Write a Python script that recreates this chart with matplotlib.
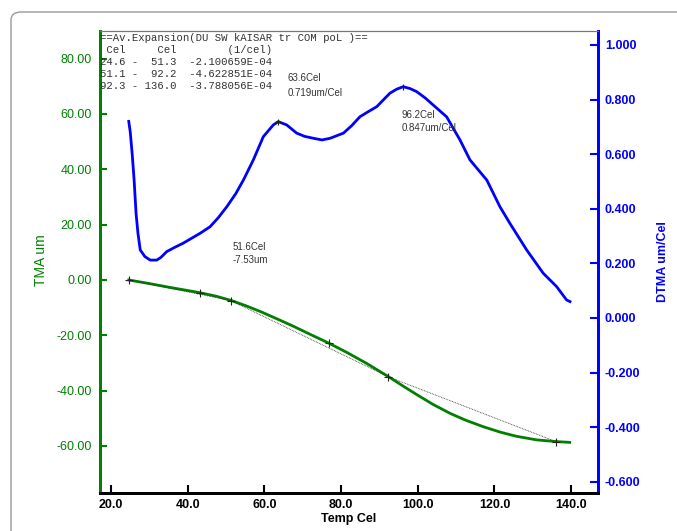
import matplotlib
matplotlib.use("Agg")
import matplotlib.pyplot as plt
from matplotlib.patches import FancyBboxPatch

# TMA curve (um) vs temperature (Cel)
tma_temp = [24.6, 30.0, 35.0, 43.2, 47.5, 51.6, 55.5, 59.6, 63.5, 67.5, 72.0, 76.9, 81.5,
            86.7, 92.4, 96.0, 99.8, 104.0, 108.4, 112.5, 117.0, 121.5, 125.7, 131.0, 136.0, 139.6]
tma_um = [0.0, -1.3, -2.6, -4.6, -5.9, -7.53, -9.5, -11.8, -14.2, -16.7, -19.7, -22.9, -26.2,
          -30.2, -35.0, -38.2, -41.5, -45.0, -48.2, -50.7, -53.0, -55.0, -56.5, -57.8, -58.4, -58.7]

# DTMA curve (um/Cel)
dtma_temp = [24.6, 25.0, 25.5, 26.0, 26.5, 27.0, 27.6, 28.8, 30.2, 31.9, 33.0, 34.5, 36.5, 38.8,
             41.0, 43.2, 45.8, 48.0, 50.2, 52.5, 54.5, 57.1, 59.7, 62.3, 63.6, 65.8, 68.4, 70.5,
             72.8, 75.0, 77.1, 80.6, 82.8, 84.9, 87.0, 89.3, 92.7, 94.5, 96.2, 98.0, 99.7, 102.0,
             104.0, 107.5, 111.0, 113.6, 118.0, 121.4, 124.0, 128.4, 132.7, 136.2, 138.8, 139.7]
dtma_val = [0.72, 0.68, 0.60, 0.505, 0.384, 0.31, 0.249, 0.225, 0.212, 0.212, 0.222, 0.243,
            0.258, 0.274, 0.292, 0.31, 0.334, 0.368, 0.408, 0.455, 0.505, 0.579, 0.664, 0.707,
            0.719, 0.707, 0.677, 0.665, 0.658, 0.652, 0.658, 0.677, 0.705, 0.737, 0.755, 0.774,
            0.823, 0.838, 0.847, 0.840, 0.829, 0.805, 0.78, 0.737, 0.652, 0.579, 0.505, 0.408,
            0.347, 0.249, 0.164, 0.115, 0.066, 0.06]

# linear expansion segments (start, end) on the TMA curve
seg_temp = [(24.6, 51.3), (51.1, 92.2), (92.3, 136.0)]
seg_um = [(0.0, -7.45), (-7.4, -34.9), (-35.0, -58.4)]
mark_temp = [24.6, 43.2, 51.3, 76.9, 92.3, 136.0]
mark_um = [0.0, -4.6, -7.45, -22.9, -35.0, -58.4]

peak_temp = [63.6, 96.2]
peak_val = [0.719, 0.847]

header = ["==Av.Expansion(DU SW kAISAR tr COM poL )==",
          " Cel     Cel        (1/cel)",
          "24.6 -  51.3  -2.100659E-04",
          "51.1 -  92.2  -4.622851E-04",
          "92.3 - 136.0  -3.788056E-04"]

green = "#008000"
blue = "#0000ff"
W, H = 677, 531

fig = plt.figure(figsize=(W / 100, H / 100), dpi=100)
ax = fig.add_axes([100 / W, 1 - 493 / H, 498 / W, 462 / H])
ax2 = ax.twinx()

# outer rounded frame
frame = FancyBboxPatch((11 / W, -0.2), 1.2, 1 - 12 / H + 0.2,
                       boxstyle="round,pad=0,rounding_size=0.015",
                       transform=fig.transFigure, fill=False, edgecolor="#999999", lw=1)
fig.patches.append(frame)

ax.plot(tma_temp, tma_um, color=green, lw=2, zorder=3)
for (t0, t1), (u0, u1) in zip(seg_temp, seg_um):
    ax.plot([t0, t1], [u0, u1], color="#333333", lw=0.6, ls=(0, (1, 1)), zorder=4)
ax.plot(mark_temp, mark_um, "+", color="#222222", ms=6, mew=0.8, zorder=5)

ax2.plot(dtma_temp, dtma_val, color=blue, lw=2)
ax2.plot(peak_temp, peak_val, "+", color="#222222", ms=5, mew=0.8)

ax.set_xlim(17.1, 147.0)
ax.set_ylim(-77, 90)
ax2.set_ylim(-0.641, 1.051)

ax.set_xticks([20, 40, 60, 80, 100, 120, 140])
ax.set_xticklabels([f"{v:.1f}" for v in [20, 40, 60, 80, 100, 120, 140]],
                   fontweight="bold", fontsize=9, family="Liberation Sans")
ax.set_yticks([-60, -40, -20, 0, 20, 40, 60, 80])
ax.set_yticklabels([f"{v:.2f}" for v in [-60, -40, -20, 0, 20, 40, 60, 80]],
                   fontsize=9, color=green, family="Liberation Sans")
r_ticks = [-0.6, -0.4, -0.2, 0.0, 0.2, 0.4, 0.6, 0.8, 1.0]
ax2.set_yticks(r_ticks)
ax2.set_yticklabels([f"{v:.3f}" for v in r_ticks], fontsize=9, color=blue,
                    fontweight="bold", family="Liberation Sans")

ax.tick_params(axis="x", direction="in", length=6, width=1.5, color="black", pad=4)
ax.tick_params(axis="y", direction="in", length=5, width=1.5, color=green, pad=6)
ax2.tick_params(axis="y", direction="in", length=6, width=1.5, color=blue, pad=5)

for a in (ax, ax2):
    a.spines["left"].set_color(green)
    a.spines["left"].set_linewidth(2)
    a.spines["right"].set_color(blue)
    a.spines["right"].set_linewidth(2)
    a.spines["bottom"].set_color("black")
    a.spines["bottom"].set_linewidth(2)
    a.spines["top"].set_color("#777777")
    a.spines["top"].set_linewidth(0.8)

ax.set_xlabel("Temp Cel", fontsize=9, fontweight="bold", family="Liberation Sans", labelpad=2)
ax.set_ylabel("TMA um", fontsize=10, color=green, family="Liberation Sans", labelpad=8)
ax.yaxis.set_label_coords(-52 / 498, 0.505)
ax2.set_ylabel("DTMA um/Cel", fontsize=9, color=blue, fontweight="bold",
               family="Liberation Sans", labelpad=12)


def px(x, y):
    return x / W, 1 - y / H


for i, line in enumerate(header):
    fig.text(*px(100, 38 + 12 * i), line, family="Liberation Mono", fontsize=7.7,
             color="#333333", va="center", ha="left")

notes = [(288, 78, "63.6Cel"), (288, 93, "0.719um/Cel"),
         (402, 115, "96.2Cel"), (402, 128, "0.847um/Cel"),
         (233, 247, "51.6Cel"), (233, 260, "-7.53um")]
for x, y, s in notes:
    fig.text(*px(x, y), s, family="Liberation Sans", fontsize=7, color="#333333",
             va="center", ha="left")

fig.savefig("out.png", dpi=100)
